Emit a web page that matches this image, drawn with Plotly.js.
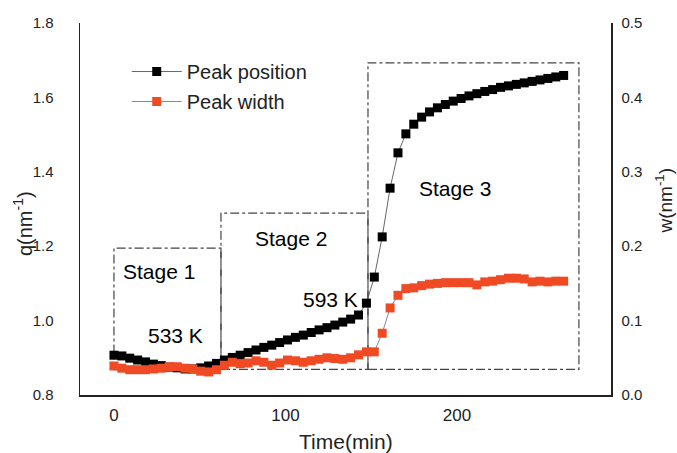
<!DOCTYPE html>
<html>
<head>
<meta charset="utf-8">
<script src="https://cdn.plot.ly/plotly-3.0.1.min.js"></script>
<style>html,body{margin:0;padding:0;background:#fff;}#chart{width:677px;height:453px;}</style>
</head>
<body>
<div id="chart"></div>
<script>
// Time (min)
const time = [0, 4.6, 9.2, 13.8, 18.4, 23, 27.6, 32.2, 36.8, 41.4,
  46, 50.6, 55.2, 59.8, 64.4, 69, 73.6, 78.2, 82.8, 87.4,
  92, 96.6, 101.2, 105.8, 110.4, 115, 119.6, 124.2, 128.8, 133.4,
  138, 142.6, 147.2, 151.8, 156.4, 161, 165.6, 170.2, 174.8, 179.4,
  184, 188.6, 193.2, 197.8, 202.4, 207, 211.6, 216.2, 220.8, 225.4,
  230, 234.6, 239.2, 243.8, 248.4, 253, 257.6, 262.2];
// Peak position q (nm^-1), left axis
const peakPosition = [0.907, 0.905, 0.899, 0.894, 0.889, 0.883, 0.879, 0.875, 0.873, 0.870,
  0.870, 0.873, 0.878, 0.885, 0.894, 0.901, 0.907, 0.914, 0.921, 0.928,
  0.934, 0.941, 0.948, 0.955, 0.961, 0.968, 0.975, 0.981, 0.988, 0.996,
  1.004, 1.015, 1.047, 1.117, 1.225, 1.356, 1.451, 1.502, 1.528, 1.547,
  1.561, 1.572, 1.581, 1.590, 1.597, 1.604, 1.610, 1.616, 1.621, 1.627,
  1.631, 1.635, 1.639, 1.643, 1.647, 1.651, 1.655, 1.659];
// Peak width w (nm^-1), right axis
const peakWidth = [0.039, 0.036, 0.034, 0.034, 0.034, 0.035, 0.036, 0.038, 0.038, 0.036,
  0.035, 0.032, 0.031, 0.034, 0.040, 0.044, 0.042, 0.043, 0.046, 0.044,
  0.040, 0.043, 0.047, 0.046, 0.044, 0.046, 0.048, 0.050, 0.049, 0.048,
  0.050, 0.054, 0.058, 0.058, 0.083, 0.117, 0.134, 0.143, 0.144, 0.147,
  0.149, 0.150, 0.151, 0.151, 0.151, 0.151, 0.148, 0.152, 0.153, 0.155,
  0.157, 0.157, 0.156, 0.152, 0.153, 0.152, 0.153, 0.153];
// Stage boxes (time, q)
const stageNames = ["Stage 1", "Stage 2", "Stage 3"];
const stageStart = [0, 62.4, 148.1];
const stageEnd = [62.4, 148.1, 271.1];
const stageLow = [0.868, 0.869, 0.869];
const stageHigh = [1.195, 1.289, 1.693];
const stageLabelT = [26.2, 103.5, 198.8];
const stageLabelQ = [1.133, 1.222, 1.356];
// Temperature labels
const tempLabels = ["533 K", "593 K"];
const tempT = [35.6, 126];
const tempQ = [0.961, 1.058];
const xTicks = [0, 100, 200];
const yTicks = [0.8, 1.0, 1.2, 1.4, 1.6, 1.8];
const y2Ticks = [0.0, 0.1, 0.2, 0.3, 0.4, 0.5];

const FONT = 'Liberation Sans, Arial, sans-serif';

const traces = [
  {x: time, y: peakPosition, name: 'Peak position', type: 'scatter', mode: 'lines+markers', legendgroup: 'a',
   line: {color: '#555', width: 0.9},
   marker: {symbol: 'square', size: 9, color: '#000'}},
  {x: time, y: peakWidth, name: 'Peak width', type: 'scatter', mode: 'lines+markers', yaxis: 'y2', legendgroup: 'b',
   line: {color: '#6f7f90', width: 0.9},
   marker: {symbol: 'square', size: 9, color: '#f04a24'}}
];

const shapes = stageNames.map((s, i) => ({
  type: 'rect', xref: 'x', yref: 'y', x0: stageStart[i], x1: stageEnd[i], y0: stageLow[i], y1: stageHigh[i],
  line: {color: '#444', width: 1.2, dash: 'dashdot'}, fillcolor: 'rgba(0,0,0,0)', layer: 'below'
}));

const annotations = [];
stageNames.forEach((s, i) => annotations.push({x: stageLabelT[i], y: stageLabelQ[i], xref: 'x', yref: 'y', text: s,
  showarrow: false, font: {family: FONT, size: 21, color: '#000'}}));
tempLabels.forEach((s, i) => annotations.push({x: tempT[i], y: tempQ[i], xref: 'x', yref: 'y', text: s,
  showarrow: false, font: {family: FONT, size: 21, color: '#000'}}));
annotations.push({x: -0.107, y: 0.46, xref: 'paper', yref: 'paper', xanchor: 'center', yanchor: 'middle',
  text: 'q(nm<sup>-1</sup>)', textangle: -90,
  showarrow: false, font: {family: FONT, size: 20, color: '#222'}});
annotations.push({x: 1.1, y: 0.523, xref: 'paper', yref: 'paper', xanchor: 'center', yanchor: 'middle',
  text: 'w(nm<sup>-1</sup>)', textangle: -90,
  showarrow: false, font: {family: FONT, size: 19, color: '#222'}});
annotations.push({x: 0.5, y: -0.124, xref: 'paper', yref: 'paper', xanchor: 'center', yanchor: 'middle',
  text: 'Time(min)', showarrow: false, font: {family: FONT, size: 21, color: '#222'}});

const layout = {
  width: 677, height: 453,
  margin: {l: 80, r: 66, t: 23, b: 58},
  paper_bgcolor: '#fff', plot_bgcolor: '#fff',
  font: {family: FONT, color: '#222'},
  showlegend: true,
  legend: {x: 0.088, y: 0.922, xanchor: 'left', yanchor: 'top', bgcolor: 'rgba(0,0,0,0)',
    font: {family: FONT, size: 20, color: '#222'}, itemwidth: 50, tracegroupgap: 1,
    traceorder: 'grouped'},
  xaxis: {range: [-19.8, 289.8], tickvals: xTicks, showgrid: false, zeroline: false,
    showline: true, linecolor: '#222', linewidth: 1.5, ticks: '', ticklabelstandoff: 4,
    tickfont: {family: FONT, size: 17, color: '#222'}},
  yaxis: {range: [0.8, 1.8], tickvals: yTicks, tickformat: '.1f', showgrid: false, zeroline: false,
    showline: true, linecolor: '#222', linewidth: 1.5, ticks: '', ticklabelstandoff: 22,
    tickfont: {family: FONT, size: 15, color: '#222'}},
  yaxis2: {range: [0, 0.5], tickvals: y2Ticks, tickformat: '.1f', overlaying: 'y', side: 'right',
    showgrid: false, zeroline: false, showline: true, linecolor: '#222', linewidth: 1.5, ticks: '',
    ticklabelstandoff: 6, tickfont: {family: FONT, size: 15, color: '#222'}},
  shapes: shapes,
  annotations: annotations
};

Plotly.newPlot('chart', traces, layout, {displayModeBar: false, staticPlot: true});
</script>
</body>
</html>
